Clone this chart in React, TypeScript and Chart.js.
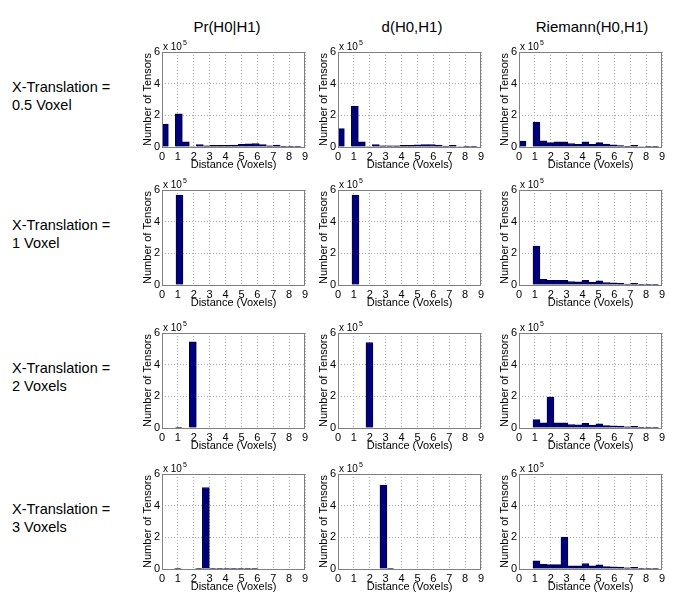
import React, { useEffect, useRef } from "react";
import { Chart, registerables } from "chart.js";

Chart.register(...registerables);

const FONT = "'Liberation Sans', Arial, sans-serif";
Chart.defaults.font.family = FONT;

// ---- data ----
const COLUMN_TITLES = ["Pr(H0|H1)", "d(H0,H1)", "Riemann(H0,H1)"];
const ROW_LABELS = [
  ["X-Translation =", "0.5 Voxel"],
  ["X-Translation =", "1 Voxel"],
  ["X-Translation =", "2 Voxels"],
  ["X-Translation =", "3 Voxels"],
];
const X_TICKS = [0, 1, 2, 3, 4, 5, 6, 7, 8, 9];
const Y_TICKS = [0, 200000, 400000, 600000];
const X_LABEL = "Distance (Voxels)";
const Y_LABEL = "Number of Tensors";

// histogram bin centres (Voxels)
const BIN_CENTERS = [
  0.22, 0.66, 1.1, 1.54, 1.98, 2.42, 2.86, 3.3, 3.74, 4.18,
  4.62, 5.06, 5.5, 5.94, 6.38, 6.82, 7.26, 7.7, 8.14, 8.58,
];
// per panel bin offsets [row][col]
const BIN_SHIFTS = [
  [-0.04, -0.04, 0],
  [0, 0, 0],
  [-0.04, 0, 0],
  [-0.1, 0, 0],
];

// counts (number of tensors)
const PR_05 = [145000, 0, 210000, 33000, 3000, 15000, 8000, 10000, 10000, 10000, 12000, 17000, 20000, 22000, 15000, 8000, 12000, 4000, 2000, 1000];
const D_05 = [116000, 0, 258000, 33000, 3000, 15000, 7000, 7000, 8000, 10000, 11000, 13000, 15000, 16000, 12000, 6000, 10000, 3000, 2000, 1000];
const RIE_05 = [37000, 0, 157000, 39000, 28000, 32000, 32000, 22000, 17000, 32000, 17000, 28000, 18000, 13000, 9000, 5000, 10000, 3000, 1000, 1000];

const PR_1 = [0, 0, 568000, 0, 0, 0, 0, 0, 0, 0, 0, 0, 0, 0, 0, 0, 0, 0, 0, 0];
const D_1 = [0, 0, 568000, 0, 0, 0, 0, 0, 0, 0, 0, 0, 0, 0, 0, 0, 0, 0, 0, 0];
const RIE_1 = [0, 0, 246000, 36000, 30000, 30000, 30000, 22000, 20000, 30000, 18000, 27000, 16000, 13000, 10000, 6000, 10000, 4000, 2000, 1000];

const PR_2 = [0, 0, 2000, 0, 545000, 0, 0, 0, 0, 0, 0, 0, 0, 0, 0, 0, 0, 0, 0, 0];
const D_2 = [0, 0, 0, 0, 540000, 0, 0, 0, 0, 0, 0, 0, 0, 0, 0, 0, 0, 0, 0, 0];
const RIE_2 = [0, 0, 53000, 32000, 196000, 32000, 32000, 22000, 20000, 30000, 18000, 27000, 15000, 14000, 12000, 8000, 10000, 4000, 2000, 1000];

const PR_3 = [0, 0, 1000, 0, 0, 1000, 515000, 2000, 1000, 1000, 1000, 1000, 1000, 1000, 0, 0, 0, 0, 0, 0];
const D_3 = [0, 0, 0, 0, 0, 0, 530000, 2000, 0, 0, 0, 0, 0, 0, 0, 0, 0, 0, 0, 0];
const RIE_3 = [0, 0, 52000, 30000, 28000, 28000, 202000, 20000, 20000, 35000, 20000, 27000, 15000, 14000, 12000, 8000, 10000, 4000, 2000, 1000];

const PANELS = [
  [PR_05, D_05, RIE_05],
  [PR_1, D_1, RIE_1],
  [PR_2, D_2, RIE_2],
  [PR_3, D_3, RIE_3],
];

// ---- layout ----
const PLOT_LEFT = [162, 338, 519];
const PLOT_TOP = [52, 190, 333, 474];
const PLOT_W = 143;
const PLOT_H = 95;
const AX_L = 24;
const AX_B = 26;
const PAD_T = 14;
const PAD_R = 10;
const TITLE_X = [227, 412, 592];

const framePlugin = {
  id: "frame",
  afterDatasetsDraw(chart: any) {
    const { ctx, chartArea } = chart;
    ctx.save();
    ctx.strokeStyle = "#808080";
    ctx.lineWidth = 1;
    ctx.strokeRect(
      Math.round(chartArea.left) + 0.5,
      Math.round(chartArea.top) + 0.5,
      Math.round(chartArea.right - chartArea.left) - 1,
      Math.round(chartArea.bottom - chartArea.top)
    );
    ctx.restore();
  },
  afterDraw(chart: any) {
    const { ctx, chartArea } = chart;
    ctx.save();
    ctx.fillStyle = "#000";
    ctx.textBaseline = "middle";
    ctx.font = `10px ${FONT}`;
    ctx.fillText("x 10", chartArea.left + 1, chartArea.top - 5);
    const w = ctx.measureText("x 10").width;
    ctx.font = `7px ${FONT}`;
    ctx.fillText("5", chartArea.left + 2 + w, chartArea.top - 9);
    ctx.restore();
  },
};

function Panel({ counts, shift, left, top }: { counts: number[]; shift: number; left: number; top: number }) {
  const ref = useRef<HTMLCanvasElement>(null);
  useEffect(() => {
    const chart = new Chart(ref.current as HTMLCanvasElement, {
      type: "bar",
      data: {
        datasets: [
          {
            data: BIN_CENTERS.map((c, i) => ({ x: c + shift, y: counts[i] })) as any,
            backgroundColor: "#00007c",
            borderColor: "#000033",
            borderWidth: 1,
            barPercentage: 1,
            categoryPercentage: 1,
          },
        ],
      },
      options: {
        responsive: false,
        animation: false,
        layout: { padding: { top: PAD_T, right: PAD_R, left: 0, bottom: 0 } },
        plugins: { legend: { display: false }, tooltip: { enabled: false } },
        scales: {
          x: {
            type: "linear",
            min: 0,
            max: 9,
            offset: false,
            afterBuildTicks: (s: any) => {
              s.ticks = X_TICKS.map((v) => ({ value: v }));
            },
            afterFit: (s: any) => {
              s.height = AX_B;
            },
            grid: { color: "#a8a8a8", drawTicks: false, offset: false },
            border: { display: false, dash: [1, 2] },
            ticks: {
              padding: 3,
              color: "#000",
              font: { size: 11, family: FONT },
              maxRotation: 0,
              autoSkip: false,
            },
            title: {
              display: true,
              text: X_LABEL,
              color: "#000",
              font: { size: 11, family: FONT },
              padding: { top: 0, bottom: 1.5 },
            },
          },
          y: {
            type: "linear",
            min: 0,
            max: 600000,
            afterBuildTicks: (s: any) => {
              s.ticks = Y_TICKS.map((v) => ({ value: v }));
            },
            afterFit: (s: any) => {
              s.width = AX_L;
            },
            grid: { color: "#a8a8a8", drawTicks: false },
            border: { display: false, dash: [1, 2] },
            ticks: {
              padding: 2,
              color: "#000",
              font: { size: 11, family: FONT },
              callback: (v: any) => String(Number(v) / 100000),
            },
            title: {
              display: true,
              text: Y_LABEL,
              color: "#000",
              font: { size: 11, family: FONT },
              padding: { top: 3.4, bottom: 0 },
            },
          },
        },
      } as any,
      plugins: [framePlugin],
    });
    return () => chart.destroy();
  }, [counts, shift]);
  return (
    <canvas
      ref={ref}
      width={PLOT_W + AX_L + PAD_R}
      height={PLOT_H + PAD_T + AX_B}
      style={{
        position: "absolute",
        left: left - AX_L,
        top: top - PAD_T,
        width: PLOT_W + AX_L + PAD_R,
        height: PLOT_H + PAD_T + AX_B,
      }}
    />
  );
}

export default function App() {
  return (
    <div
      style={{
        position: "absolute",
        left: 0,
        top: 0,
        width: 683,
        height: 600,
        background: "#fff",
        fontFamily: FONT,
        color: "#000",
        overflow: "hidden",
      }}
    >
      {COLUMN_TITLES.map((t, c) => (
        <div
          key={t}
          style={{
            position: "absolute",
            left: TITLE_X[c] - 100,
            width: 200,
            top: 18,
            textAlign: "center",
            fontSize: 15,
            lineHeight: "18px",
            whiteSpace: "nowrap",
          }}
        >
          {t}
        </div>
      ))}
      {ROW_LABELS.map((lines, r) => (
        <div
          key={r}
          style={{
            position: "absolute",
            left: 12,
            top: PLOT_TOP[r] + 26,
            fontSize: 14.5,
            lineHeight: "18px",
            whiteSpace: "nowrap",
          }}
        >
          {lines[0]}
          <br />
          {lines[1]}
        </div>
      ))}
      {PANELS.map((row, r) =>
        row.map((counts, c) => (
          <Panel key={`${r}-${c}`} counts={counts} shift={BIN_SHIFTS[r][c]} left={PLOT_LEFT[c]} top={PLOT_TOP[r]} />
        ))
      )}
    </div>
  );
}
